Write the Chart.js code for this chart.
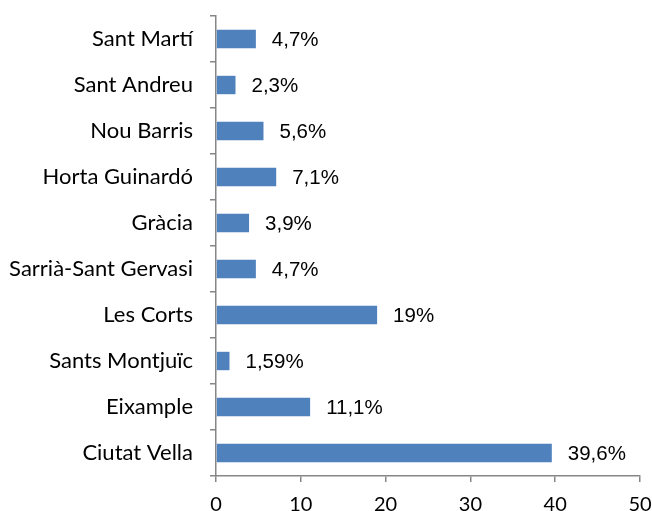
<!DOCTYPE html>
<html>
<head>
<meta charset="utf-8">
<script src="https://cdn.jsdelivr.net/npm/chart.js@4"></script>
<style>
  html, body { margin: 0; padding: 0; background: #fff; }
  #wrap { width: 652px; height: 511px; }
</style>
</head>
<body>
<div id="wrap"><canvas id="chart"></canvas></div>
<script>
// districts, top to bottom as shown
const districts = ['Sant Martí', 'Sant Andreu', 'Nou Barris', 'Horta Guinardó', 'Gràcia',
    'Sarrià-Sant Gervasi', 'Les Corts', 'Sants Montjuïc', 'Eixample', 'Ciutat Vella'];
const percentages = [4.7, 2.3, 5.6, 7.1, 3.9, 4.7, 19, 1.59, 11.1, 39.6];
const xTicks = [0, 10, 20, 30, 40, 50];

const axisColor = '#868686';

// draws "4,7%" style labels right of each bar
const valueLabels = {
    id: 'valueLabels',
    afterDatasetsDraw(chart) {
        const ctx = chart.ctx;
        const meta = chart.getDatasetMeta(0);
        ctx.save();
        ctx.font = '20.5px "Liberation Sans", Arial, sans-serif';
        ctx.fillStyle = '#000';
        ctx.textAlign = 'left';
        ctx.textBaseline = 'middle';
        meta.data.forEach((bar, i) => {
            const txt = String(percentages[i]).replace('.', ',') + '%';
            ctx.fillText(txt, bar.x + 16, bar.y + 1);
        });
        ctx.restore();
    }
};

new Chart(document.getElementById('chart'), {
    type: 'bar',
    data: {
        labels: districts,
        datasets: [{
            data: percentages,
            backgroundColor: '#4F81BD',
            borderWidth: 0,
            barPercentage: 0.4,
            categoryPercentage: 1.0
        }]
    },
    options: {
        indexAxis: 'y',
        responsive: true,
        maintainAspectRatio: false,
        animation: false,
        layout: { padding: { top: 16, right: 12, left: 0, bottom: 0 } },
        plugins: {
            legend: { display: false },
            tooltip: { enabled: false }
        },
        scales: {
            x: {
                min: 0,
                max: 50,
                afterBuildTicks(axis) {
                    axis.ticks = xTicks.map(v => ({ value: v }));
                },
                afterFit(axis) {
                    axis.height = 35;
                    axis.paddingLeft = 0;
                    axis.paddingRight = 0;
                },
                border: { display: true, color: axisColor, width: 1.5 },
                grid: {
                    drawOnChartArea: false,
                    drawTicks: true,
                    tickLength: 6,
                    color: axisColor,
                    lineWidth: 1.5
                },
                ticks: {
                    padding: 11,
                    color: '#000',
                    font: { family: 'Lato, "Open Sans", sans-serif', size: 20 }
                }
            },
            y: {
                afterFit(axis) {
                    axis.width = 216;
                    axis.paddingTop = 0;
                    axis.paddingBottom = 0;
                },
                border: { display: true, color: axisColor, width: 1.5 },
                grid: {
                    offset: true,
                    drawOnChartArea: false,
                    drawTicks: true,
                    tickLength: 6,
                    color: axisColor,
                    lineWidth: 1.5
                },
                ticks: {
                    padding: 17,
                    color: '#000',
                    font: { family: 'Lato, "Open Sans", sans-serif', size: 22 }
                }
            }
        }
    },
    plugins: [valueLabels]
});
</script>
</body>
</html>
